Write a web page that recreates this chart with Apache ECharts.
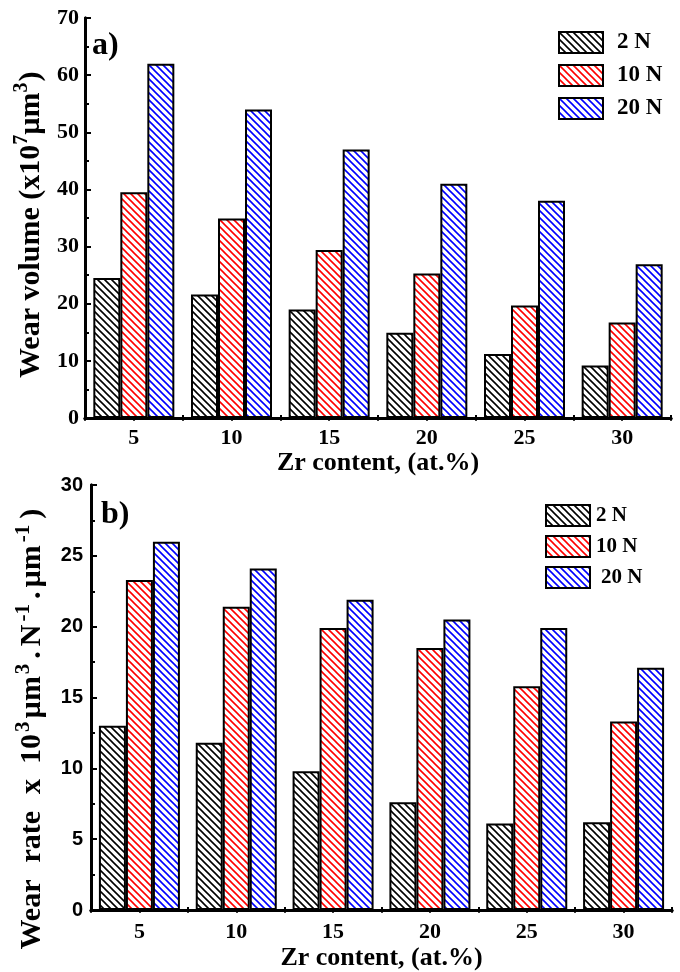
<!DOCTYPE html>
<html>
<head>
<meta charset="utf-8">
<script src="https://cdn.jsdelivr.net/npm/echarts@6/dist/echarts.min.js"></script>
<style>html,body{margin:0;padding:0;background:#fff}#c{width:680px;height:972px}</style>
</head>
<body>
<div id="c"></div>
<script>
// ---- data ----
const categories = ['5', '10', '15', '20', '25', '30'];
const seriesNames = ['2 N', '10 N', '20 N'];
const volume2N  = [24.5, 21.6, 19.0, 14.9, 11.2, 9.2];
const volume10N = [39.5, 34.9, 29.4, 25.3, 19.7, 16.7];
const volume20N = [62.0, 54.0, 47.0, 41.0, 38.0, 26.9];
const rate2N  = [13.0, 11.8, 9.8, 7.6, 6.1, 6.2];
const rate10N = [23.3, 21.4, 19.9, 18.5, 15.8, 13.3];
const rate20N = [26.0, 24.1, 21.9, 20.5, 19.9, 17.1];
const volumeTicks = {min: 0, max: 70, interval: 10};
const rateTicks = {min: 0, max: 30, interval: 5};
const colors = ['#000000', '#ff0000', '#0000ff'];

function hatch(color) {
  const s = 7;
  const c = document.createElement('canvas');
  c.width = s; c.height = s;
  const g = c.getContext('2d');
  g.fillStyle = '#fff'; g.fillRect(0, 0, s, s);
  g.strokeStyle = color; g.lineWidth = 1.6;
  g.beginPath();
  for (const dx of [-s, 0, s]) { g.moveTo(dx - 1, -1); g.lineTo(dx + s + 1, s + 1); }
  g.stroke();
  return {image: c, repeat: 'repeat'};
}
const patterns = colors.map(hatch);

const serif = '"Liberation Serif", "Times New Roman", serif';
const sans = '"Liberation Sans", Arial, sans-serif';

const grids = [
  {left: 85, top: 18, width: 586, height: 400},
  {left: 91, top: 485, width: 581, height: 426}
];

function xAxesFor(gi, labelMargin, nameGap) {
  return [
    {
      type: 'category', gridIndex: gi, data: categories, position: 'bottom',
      name: 'Zr content, (at.%)', nameLocation: 'middle', nameGap: nameGap,
      nameTextStyle: {fontFamily: serif, fontWeight: 'bold', fontSize: 26, color: '#000'},
      axisLine: {lineStyle: {color: '#000', width: 3}},
      axisTick: {show: true, alignWithLabel: true, inside: true, length: 5, lineStyle: {color: '#000', width: 3}},
      axisLabel: {fontFamily: serif, fontWeight: 'bold', fontSize: 22, color: '#000', margin: labelMargin},
      splitLine: {show: false}
    },
    {
      type: 'value', gridIndex: gi, position: 'top', min: 0, max: 6, interval: 0.5,
      axisLine: {show: true, lineStyle: {color: '#000', width: 3}},
      axisTick: {show: true, inside: true, length: 3, lineStyle: {color: '#000', width: 1.5}},
      axisLabel: {show: false}, splitLine: {show: false}
    },
    {
      type: 'value', gridIndex: gi, position: 'bottom', min: 0, max: 6, interval: 1,
      axisLine: {show: false},
      axisTick: {show: true, inside: true, length: 3, lineStyle: {color: '#000', width: 2}},
      axisLabel: {show: false}, splitLine: {show: false}
    }
  ];
}

function yAxesFor(gi, ticks, nameRich, nameGap, labelFont, labelSize, labelMargin) {
  return [
    {
      type: 'value', gridIndex: gi, position: 'left',
      min: ticks.min, max: ticks.max, interval: ticks.interval,
      name: nameRich.text, nameLocation: 'middle', nameGap: nameGap, nameRotate: 90,
      nameTextStyle: {fontFamily: serif, fontWeight: 'bold', fontSize: nameRich.size, color: '#000', rich: nameRich.rich},
      axisLine: {show: true, lineStyle: {color: '#000', width: 3}},
      axisTick: {show: true, inside: true, length: 6, lineStyle: {color: '#000', width: 2}},
      minorTick: {show: true, splitNumber: 2, length: 4, lineStyle: {color: '#000', width: 2}},
      axisLabel: {fontFamily: labelFont, fontWeight: 'bold', fontSize: labelSize, color: '#000', margin: labelMargin},
      splitLine: {show: false}
    },
    {
      type: 'value', gridIndex: gi, position: 'right',
      min: ticks.min, max: ticks.max, interval: ticks.interval,
      axisLine: {show: true, lineStyle: {color: '#000', width: 3}},
      axisTick: {show: false}, axisLabel: {show: false}, splitLine: {show: false}
    }
  ];
}

const measureCtx = document.createElement('canvas').getContext('2d');
function textWidth(t, size) {
  measureCtx.font = 'bold ' + size + 'px ' + serif;
  return measureCtx.measureText(t).width;
}
// rich-text name: tokens [text, isSup, gapBefore]; boxLen = length of the name box incl. trailing pad
function buildName(tokens, size, supSize, boxLen) {
  const rich = {};
  let text = '';
  let total = 0;
  tokens.forEach((tk) => { total += tk[2] + textWidth(tk[0], tk[1] ? supSize : size); });
  tokens.forEach((tk, i) => {
    const [t, sup, gap] = tk;
    const key = 't' + i;
    rich[key] = {
      fontFamily: serif, fontWeight: 'bold', color: '#000',
      fontSize: sup ? supSize : size,
      verticalAlign: sup ? 'top' : 'middle',
      lineHeight: size + 8,
      padding: [0, (i === tokens.length - 1 ? Math.max(0, boxLen - total) : 0), 0, gap]
    };
    text += '{' + key + '|' + t + '}';
  });
  return {text: text, size: size, rich: rich};
}

const name1 = buildName([
  ['Wear volume (x10', false, 0],
  ['7', true, 0],
  ['µm', false, 0],
  ['3', true, 0],
  [')', false, 1]
], 30, 20, 320);

const name2 = buildName([
  ['Wear', false, 0],
  ['rate', false, 17],
  ['x', false, 17],
  ['10', false, 15],
  ['3', true, 2],
  ['µm', false, 3],
  ['3', true, 2],
  ['.', false, 5],
  ['N', false, 5],
  ['-1', true, 3],
  ['.', false, 5],
  ['µm', false, 4],
  ['-1', true, 3],
  [')', false, 6]
], 30, 21, 504);

function barSeries(names, datas, xi, yi) {
  return names.map((n, i) => ({
    type: 'bar', name: n, data: datas[i], xAxisIndex: xi, yAxisIndex: yi,
    barWidth: 27, barGap: '0%',
    itemStyle: {color: patterns[i], borderColor: '#000', borderWidth: 2},
    emphasis: {disabled: true}
  }));
}

function legendFor(left, top, fontSize, gap, pads) {
  return {
    orient: 'vertical', left: left, top: top, padding: 0, itemWidth: 44, itemHeight: 21, itemGap: gap,
    icon: 'rect', selectedMode: false,
    data: seriesNames.map((n, i) => ({name: n, textStyle: {padding: [0, 0, 0, pads[i]]}})),
    textStyle: {fontFamily: serif, fontWeight: 'bold', fontSize: fontSize, color: '#000'}
  };
}

const chart = echarts.init(document.getElementById('c'), null, {renderer: 'canvas'});
chart.setOption({
  backgroundColor: '#fff',
  animation: false,
  grid: grids,
  xAxis: [...xAxesFor(0, 9, 30), ...xAxesFor(1, 11, 35)],
  yAxis: [...yAxesFor(0, volumeTicks, name1, 32, serif, 22, 6), ...yAxesFor(1, rateTicks, name2, 40, sans, 20, 8)],
  legend: [legendFor(558, 31, 23, 10, [9, 9, 9]), legendFor(545, 504, 21, 8, [1, 1, 6])],
  series: [
    ...barSeries(seriesNames, [volume2N, volume10N, volume20N], 0, 0),
    ...barSeries(seriesNames, [rate2N, rate10N, rate20N], 3, 2)
  ],
  graphic: [
    {type: 'text', left: 92, top: 30, style: {text: 'a)', font: 'bold 32px ' + serif, fill: '#000'}},
    {type: 'text', left: 101, top: 499, style: {text: 'b)', font: 'bold 32px ' + serif, fill: '#000'}}
  ]
});
</script>
</body>
</html>
